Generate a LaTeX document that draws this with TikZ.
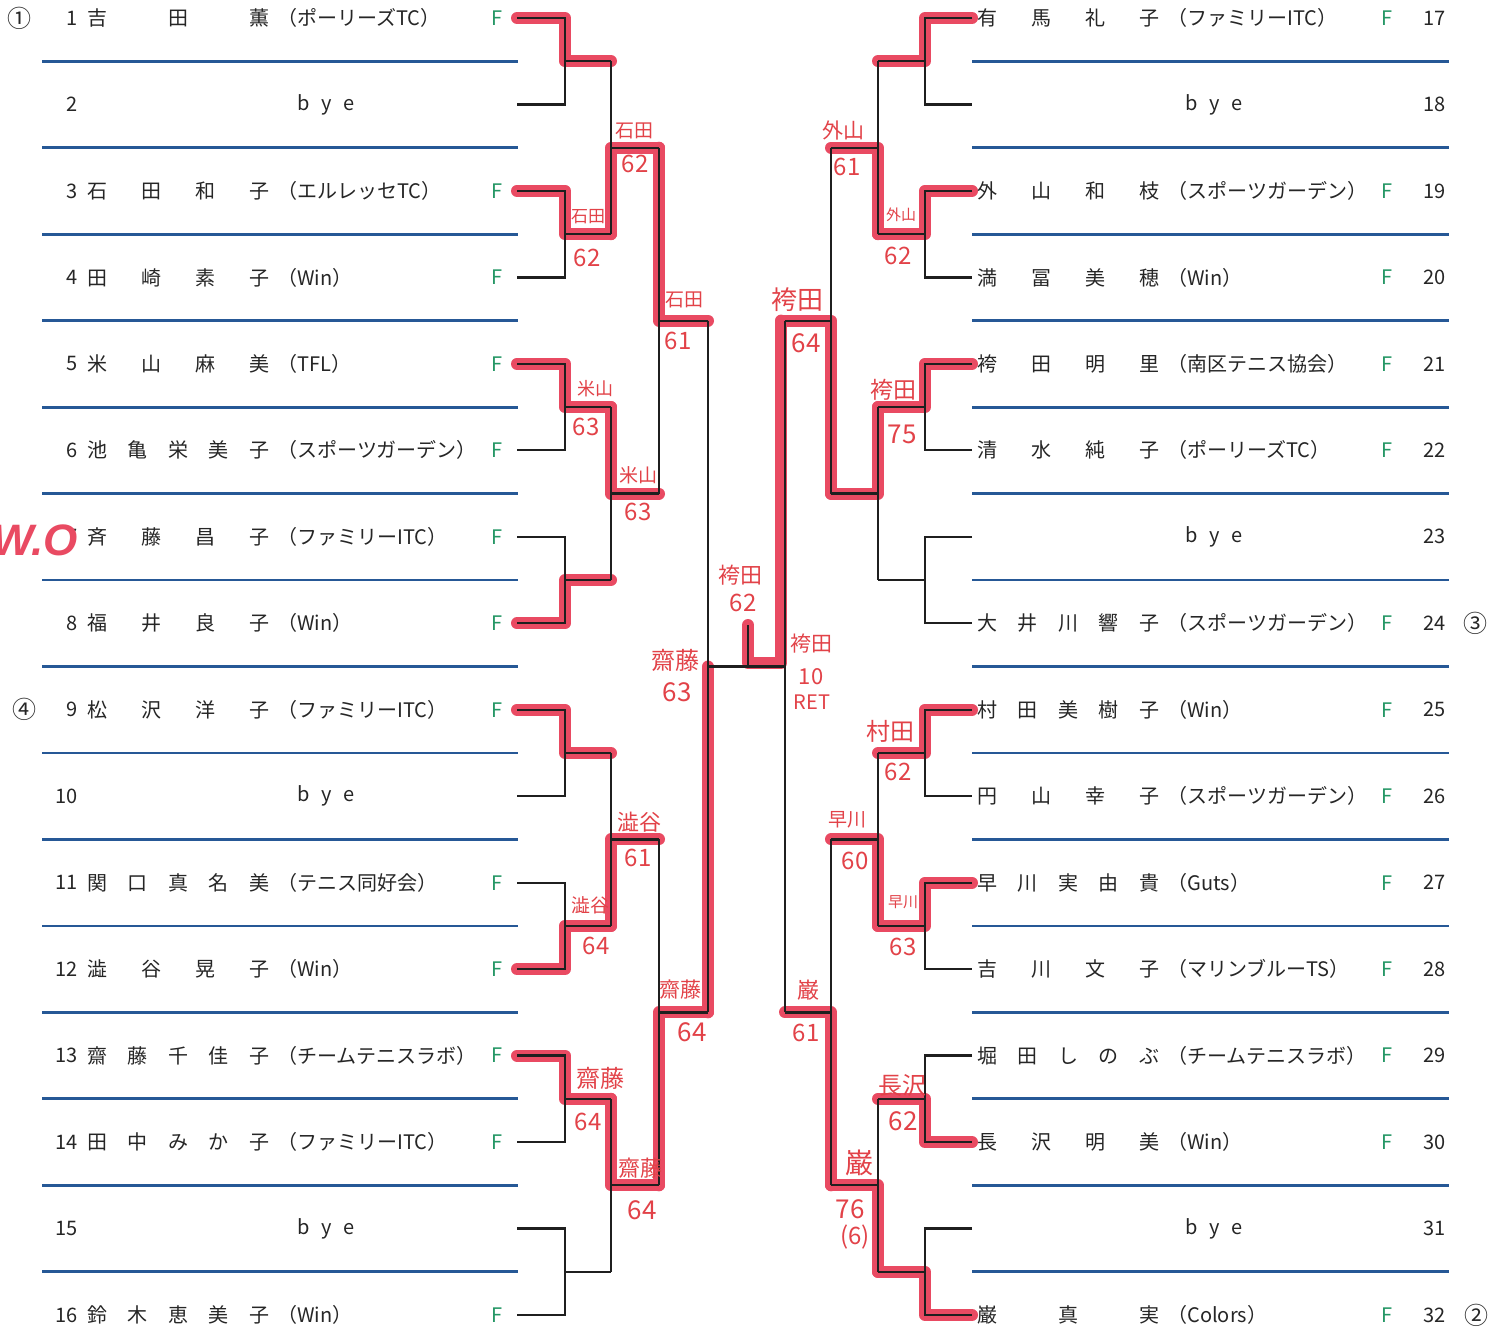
\documentclass[tikz,border=0pt]{standalone}
\usepackage{fontspec}
\setmainfont{Noto Sans CJK JP}
\newfontfamily\wofont{Liberation Sans}
\definecolor{mk}{RGB}{233,74,98}
\definecolor{hwred}{RGB}{226,66,72}
\definecolor{bl}{RGB}{38,88,150}
\definecolor{fg}{RGB}{35,150,100}
\newcommand\pair[5]{%
  \draw[brk] (#1,#4) -| (#2,#5) -- (#1,#5);
  \draw[brk] (#2,{(#4+#5)/2}) -- (#3,{(#4+#5)/2});}
\newcommand\Lp[5]{%
  \node[txt,anchor=east] (ln#1) at (78,#2) {#3};
  \node[txt,anchor=west] (lp#1) at (87,#2) {\makebox[91pt][s]{#4}\hspace{4pt}#5};
  \node[ff] (lf#1) at (497,#2) {F};}
\newcommand\Lb[3]{%
  \node[txt,anchor=east] (ln#1) at (78,#2) {#3};
  \node[txt] (lb#1) at (326,#2) {b\hspace{6pt}y\hspace{6pt}e};}
\newcommand\Rp[5]{%
  \node[txt,anchor=west] (rp#1) at (977,#2) {\makebox[91pt][s]{#4}\hspace{4pt}#5};
  \node[ff] (rf#1) at (1387,#2) {F};
  \node[txt,anchor=east] (rn#1) at (1446,#2) {#3};}
\newcommand\Rb[3]{%
  \node[txt] (rb#1) at (1214,#2) {b\hspace{6pt}y\hspace{6pt}e};
  \node[txt,anchor=east] (rn#1) at (1446,#2) {#3};}
\newcommand\hwl[4]{\node[hw,font=\fontsize{#3}{#3}\selectfont] (#1) at #2 {#4};}
\begin{document}
\begin{tikzpicture}[x=0.5pt,y=-0.5pt,
  brk/.style={draw=black!88,line width=1.15pt},
  hilite/.style={draw=mk,line width=6pt,line cap=round,line join=round},
  sep/.style={draw=bl,line width=1.4pt},
  txt/.style={inner sep=0pt,font=\fontsize{10}{12}\selectfont,text=black!85},
  ff/.style={txt,text=fg},
  hw/.style={inner sep=0pt,text=hwred},
  circ/.style={inner sep=0pt,font=\fontsize{12}{14}\selectfont,text=black!85}]
\fill[white] (0,0) rectangle (1504,1329);
\useasboundingbox (0,0) rectangle (1504,1329);

% blue separators
\foreach \y in {61.2,147.7,234.2,320.6,407.1,493.6,580.0,666.5,753.0,839.4,925.9,1012.3,1098.8,1185.3,1271.8}{
  \draw[sep] (42,\y) -- (518,\y);
  \draw[sep] (972,\y) -- (1449,\y);}

% red marker paths (left)
\draw[hilite] (517,18) -| (565,61.2) -- (611,61.2);
\draw[hilite] (517,190.9) -| (565,234.2) -- (611,234.2);
\draw[hilite] (611,234.2) -- (611,147.7) -- (659,147.7);
\draw[hilite] (659,147.7) -- (659,320.6) -- (708,320.6);
\draw[hilite] (517,363.9) -| (565,407.1) -- (611,407.1);
\draw[hilite] (517,623.3) -| (565,580.0) -- (611,580.0);
\draw[hilite] (611,407.1) -- (611,493.6) -- (659,493.6);
\draw[hilite] (517,709.7) -| (565,753.0) -- (611,753.0);
\draw[hilite] (517,969.1) -| (565,925.9) -- (611,925.9);
\draw[hilite] (611,925.9) -- (611,839.4) -- (659,839.4);
\draw[hilite] (517,1055.6) -| (565,1098.8) -- (611,1098.8);
\draw[hilite] (611,1098.8) -- (611,1185.3) -- (659,1185.3);
\draw[hilite] (659,1185.3) -- (659,1012.3) -- (708,1012.3);
\draw[hilite] (708,1012.3) -- (708,666.5);
% red marker paths (right)
\draw[hilite] (972,18) -| (925,61.2) -- (878,61.2);
\draw[hilite] (972,190.9) -| (925,234.2) -- (878,234.2);
\draw[hilite] (878,234.2) -- (878,147.7) -- (831,147.7);
\draw[hilite] (972,363.9) -| (925,407.1) -- (878,407.1);
\draw[hilite] (878,407.1) -- (878,493.6) -- (831,493.6);
\draw[hilite] (831,493.6) -- (831,320.6) -- (783,320.6);
\draw[hilite] (781,320.6) -- (781,663) -- (748,663) -- (748,625);
\draw[hilite] (972,709.7) -| (925,753.0) -- (878,753.0);
\draw[hilite] (972,882.7) -| (925,925.9) -- (878,925.9);
\draw[hilite] (878,925.9) -- (878,839.4) -- (831,839.4);
\draw[hilite] (972,1142.1) -| (925,1098.8) -- (878,1098.8);
\draw[hilite] (972,1315) -| (925,1271.8) -- (878,1271.8);
\draw[hilite] (878,1271.8) -- (878,1185.3) -- (831,1185.3);
\draw[hilite] (831,1185.3) -- (831,1012.3) -- (785,1012.3);

% black bracket (left)
\foreach \a/\b in {18/104.5,190.9/277.4,363.9/450.3,536.8/623.3,709.7/796.2,882.7/969.1,1055.6/1142.1,1228.5/1315}{
  \pair{517}{565}{611}{\a}{\b}}
\foreach \a/\b in {61.2/234.2,407.1/580.0,753.0/925.9,1098.8/1271.8}{
  \pair{611}{611}{659}{\a}{\b}}
\foreach \a/\b in {147.7/493.6,839.4/1185.3}{
  \pair{659}{659}{708}{\a}{\b}}
\draw[brk] (708,320.6) -- (708,1012.3);
% black bracket (right)
\foreach \a/\b in {18/104.5,190.9/277.4,363.9/450.3,536.8/623.3,709.7/796.2,882.7/969.1,1055.6/1142.1,1228.5/1315}{
  \pair{972}{925}{878}{\a}{\b}}
\foreach \a/\b in {61.2/234.2,407.1/580.0,753.0/925.9,1098.8/1271.8}{
  \pair{878}{878}{831}{\a}{\b}}
\foreach \a/\b in {147.7/493.6,839.4/1185.3}{
  \pair{831}{831}{785}{\a}{\b}}
\draw[brk] (785,320.6) -- (785,1012.3);
% final
\draw[brk] (708,666.5) -- (785,666.5);
\draw[brk] (748,666.5) -- (748,625);

% left entries
\Lp{1}{18}{1}{吉\hfil 田\hfil 薫}{（ポーリーズTC）}
\Lb{2}{104.5}{2}
\Lp{3}{190.9}{3}{石\hfil 田\hfil 和\hfil 子}{（エルレッセTC）}
\Lp{4}{277.4}{4}{田\hfil 崎\hfil 素\hfil 子}{（Win）}
\Lp{5}{363.9}{5}{米\hfil 山\hfil 麻\hfil 美}{（TFL）}
\Lp{6}{450.3}{6}{池\hfil 亀\hfil 栄\hfil 美\hfil 子}{（スポーツガーデン）}
\Lp{7}{536.8}{7}{斉\hfil 藤\hfil 昌\hfil 子}{（ファミリーITC）}
\Lp{8}{623.3}{8}{福\hfil 井\hfil 良\hfil 子}{（Win）}
\Lp{9}{709.7}{9}{松\hfil 沢\hfil 洋\hfil 子}{（ファミリーITC）}
\Lb{10}{796.2}{10}
\Lp{11}{882.7}{11}{関\hfil 口\hfil 真\hfil 名\hfil 美}{（テニス同好会）}
\Lp{12}{969.1}{12}{澁\hfil 谷\hfil 晃\hfil 子}{（Win）}
\Lp{13}{1055.6}{13}{齋\hfil 藤\hfil 千\hfil 佳\hfil 子}{（チームテニスラボ）}
\Lp{14}{1142.1}{14}{田\hfil 中\hfil み\hfil か\hfil 子}{（ファミリーITC）}
\Lb{15}{1228.5}{15}
\Lp{16}{1315}{16}{鈴\hfil 木\hfil 恵\hfil 美\hfil 子}{（Win）}

% right entries
\Rp{17}{18}{17}{有\hfil 馬\hfil 礼\hfil 子}{（ファミリーITC）}
\Rb{18}{104.5}{18}
\Rp{19}{190.9}{19}{外\hfil 山\hfil 和\hfil 枝}{（スポーツガーデン）}
\Rp{20}{277.4}{20}{満\hfil 冨\hfil 美\hfil 穂}{（Win）}
\Rp{21}{363.9}{21}{袴\hfil 田\hfil 明\hfil 里}{（南区テニス協会）}
\Rp{22}{450.3}{22}{清\hfil 水\hfil 純\hfil 子}{（ポーリーズTC）}
\Rb{23}{536.8}{23}
\Rp{24}{623.3}{24}{大\hfil 井\hfil 川\hfil 響\hfil 子}{（スポーツガーデン）}
\Rp{25}{709.7}{25}{村\hfil 田\hfil 美\hfil 樹\hfil 子}{（Win）}
\Rp{26}{796.2}{26}{円\hfil 山\hfil 幸\hfil 子}{（スポーツガーデン）}
\Rp{27}{882.7}{27}{早\hfil 川\hfil 実\hfil 由\hfil 貴}{（Guts）}
\Rp{28}{969.1}{28}{吉\hfil 川\hfil 文\hfil 子}{（マリンブルーTS）}
\Rp{29}{1055.6}{29}{堀\hfil 田\hfil し\hfil の\hfil ぶ}{（チームテニスラボ）}
\Rp{30}{1142.1}{30}{長\hfil 沢\hfil 明\hfil 美}{（Win）}
\Rb{31}{1228.5}{31}
\Rp{32}{1315}{32}{巌\hfil 真\hfil 実}{（Colors）}

% seed marks
\node[circ] (s1) at (20,18) {①};
\node[circ] (s4) at (24,709.7) {④};
\node[circ] (s3) at (1475,623.3) {③};
\node[circ] (s2) at (1476,1315) {②};

% walkover mark
\node[inner sep=0pt,anchor=east,text=mk,font=\wofont\bfseries\itshape\fontsize{22}{22}\selectfont] (wo) at (78,540) {W.O};

% handwritten results (left)
\hwl{a1}{(588,217)}{8.5}{石田}  \hwl{a1s}{(587,258)}{12}{62}
\hwl{a2}{(634,131)}{9.5}{石田}  \hwl{a2s}{(635,164)}{12}{62}
\hwl{a3}{(684,300)}{9.5}{石田}  \hwl{a3s}{(678,341)}{12}{61}
\hwl{a4}{(595,389)}{9}{米山}    \hwl{a4s}{(586,427)}{12}{63}
\hwl{a5}{(638,475)}{9.5}{米山}  \hwl{a5s}{(638,512)}{12}{63}
\hwl{a6}{(675,660)}{12}{齋藤}   \hwl{a6s}{(677,692)}{13}{63}
\hwl{a7}{(639,822)}{11}{澁谷}   \hwl{a7s}{(638,858)}{12}{61}
\hwl{a8}{(590,905)}{9.5}{澁谷}  \hwl{a8s}{(596,946)}{12}{64}
\hwl{a9}{(680,990)}{10.5}{齋藤} \hwl{a9s}{(692,1032)}{13}{64}
\hwl{a10}{(600,1078)}{12}{齋藤} \hwl{a10s}{(588,1122)}{12}{64}
\hwl{a11}{(640,1168)}{11}{齋藤} \hwl{a11s}{(642,1210)}{13}{64}
% handwritten results (right)
\hwl{b1}{(843,130)}{10.5}{外山} \hwl{b1s}{(847,167)}{12}{61}
\hwl{b2}{(901,215)}{7.5}{外山}  \hwl{b2s}{(898,256)}{12}{62}
\hwl{b3}{(797,300)}{13}{袴田}   \hwl{b3s}{(806,343)}{13}{64}
\hwl{b4}{(893,390)}{11.5}{袴田} \hwl{b4s}{(902,434)}{13}{75}
\hwl{b5}{(740,575)}{11}{袴田}   \hwl{b5s}{(743,603)}{12}{62}
\hwl{b6}{(811,644)}{10.5}{袴田} \hwl{b6s}{(811,677)}{11}{10}
\hwl{b6r}{(812,702)}{10}{RET}
\hwl{b7}{(890,731)}{12}{村田}   \hwl{b7s}{(898,772)}{12}{62}
\hwl{b8}{(847,820)}{9.5}{早川}  \hwl{b8s}{(855,861)}{12}{60}
\hwl{b9}{(903,902)}{7.5}{早川}  \hwl{b9s}{(903,947)}{12}{63}
\hwl{b10}{(808,990)}{11}{巌}    \hwl{b10s}{(806,1033)}{12}{61}
\hwl{b11}{(902,1085)}{12}{長沢} \hwl{b11s}{(903,1121)}{13}{62}
\hwl{b12}{(859,1163)}{14}{巌}   \hwl{b12s}{(850,1209)}{13}{76}
\hwl{b12t}{(855,1237)}{12}{(6)}
\end{tikzpicture}
\end{document}
